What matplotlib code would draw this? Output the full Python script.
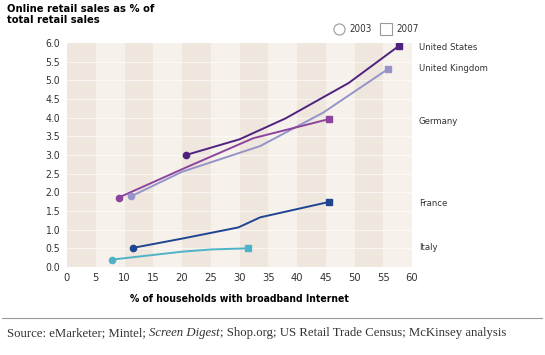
import matplotlib
matplotlib.use("Agg")
import matplotlib.pyplot as plt
from matplotlib.lines import Line2D

plt.rcParams["font.family"] = ["DejaVu Sans"]
plt.rcParams["font.stretch"] = "condensed"

# broadband household share (x) vs online retail share (y), 2003 -> 2007
countries = ["United States", "United Kingdom", "Germany", "France", "Italy"]
us_x = [20.7, 30.0, 38.0, 49.0, 57.7]
us_y = [3.0, 3.42, 3.98, 4.93, 5.92]
uk_x = [11.1, 20.0, 33.6, 44.5, 55.9]
uk_y = [1.89, 2.55, 3.24, 4.13, 5.31]
de_x = [9.0, 20.9, 32.4, 45.5]
de_y = [1.86, 2.68, 3.45, 3.96]
fr_x = [11.4, 20.0, 29.8, 33.6, 45.5]
fr_y = [0.51, 0.76, 1.06, 1.33, 1.74]
it_x = [7.9, 20.0, 25.0, 31.4]
it_y = [0.2, 0.41, 0.47, 0.5]

label_y = [5.87, 5.31, 3.91, 1.69, 0.51]
colors = ["#4e2380", "#9593c8", "#8c449e", "#1f4591", "#4fb3c8"]

x_ticks = list(range(0, 61, 5))
y_ticks = [i / 2 for i in range(13)]

fig = plt.figure(figsize=(5.45, 3.55), dpi=100)
ax = fig.add_axes([67 / 545, 1 - 267 / 355, 345 / 545, 224 / 355])

# alternating background stripes
for i, x0 in enumerate(x_ticks[:-1]):
    ax.axvspan(x0, x0 + 5, color="#efe6de" if i % 2 == 0 else "#f6f1eb", lw=0, zorder=0)
for yv in y_ticks[1:-1]:
    ax.axhline(yv, color="white", lw=0.6, alpha=0.7, zorder=1)

series = [(us_x, us_y), (uk_x, uk_y), (de_x, de_y), (fr_x, fr_y), (it_x, it_y)]
for (xs, ys), c in zip(series, colors):
    ax.plot(xs, ys, color=c, lw=1.4, zorder=3, solid_capstyle="round")
    ax.plot(xs[0], ys[0], "o", color=c, ms=4.5, zorder=4)
    ax.plot(xs[-1], ys[-1], "s", color=c, ms=4.5, zorder=4)

ax.set_xlim(0, 60)
ax.set_ylim(0, 6)
ax.set_xticks(x_ticks)
ax.set_yticks(y_ticks)
ax.set_yticklabels([f"{v:.1f}" for v in y_ticks])
ax.tick_params(axis="y", length=0, labelsize=7.5, colors="#333333", pad=5)
ax.tick_params(axis="x", length=0, labelsize=8, colors="#333333", pad=4)
for s in ax.spines.values():
    s.set_visible(False)
ax.set_xlabel("% of households with broadband Internet", fontsize=7.5,
              fontweight="bold", labelpad=8)

for name, yv in zip(countries, label_y):
    ax.text(61.2, yv, name, fontsize=6.8, color="#333333", va="center",
            transform=ax.transData, clip_on=False)

fig.text(7 / 545, 1 - 4 / 355, "Online retail sales as % of\ntotal retail sales",
         fontsize=8, fontweight="bold", va="top", ha="left", linespacing=1.15)

# legend markers (open)
fig.add_artist(Line2D([339 / 545], [1 - 29 / 355], marker="o", ms=8, mfc="white",
                      mec="#999999", mew=0.8, ls="none"))
fig.text(349 / 545, 1 - 29 / 355, "2003", fontsize=7, va="center", color="#333333")
fig.add_artist(Line2D([386 / 545], [1 - 29 / 355], marker="s", ms=8, mfc="white",
                      mec="#999999", mew=0.8, ls="none"))
fig.text(396 / 545, 1 - 29 / 355, "2007", fontsize=7, va="center", color="#333333")

fig.add_artist(Line2D([2 / 545, 542 / 545], [1 - 318 / 355, 1 - 318 / 355],
                      color="#999999", lw=0.8))

# source line: serif, with the publication name in italics
parts = [("Source: eMarketer; Mintel; ", "normal"), ("Screen Digest", "italic"),
         ("; Shop.org; US Retail Trade Census; McKinsey analysis", "normal")]
renderer = fig.canvas.get_renderer()
x_px = 7
for txt, style in parts:
    t = fig.text(x_px / 545, 1 - 333 / 355, txt, fontsize=9.2, va="center",
                 family="Liberation Serif", style=style, color="#333333",
                 fontstretch="normal")
    x_px += t.get_window_extent(renderer).width

fig.savefig("out.png", dpi=100)
